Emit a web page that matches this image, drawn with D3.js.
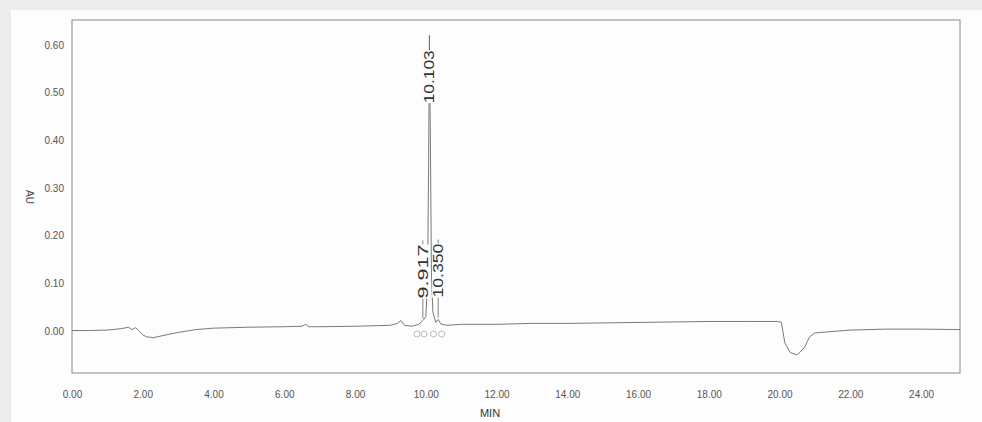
<!DOCTYPE html>
<html lang="en">
<head>
<meta charset="UTF-8">
<title>chromatogram</title>
<style>
  body { margin: 0; background: #ececec; }
  text { font-family: "Liberation Sans", Arial, sans-serif; }
</style>
</head>
<body>
<script src="https://cdn.jsdelivr.net/npm/d3@7"></script>
<script>

// trace: [minutes, AU]
const trace = [
    [0.0, 0.001], [0.5, 0.001], [1.0, 0.002], [1.4, 0.005], [1.6, 0.008],
    [1.7, 0.003], [1.8, 0.007], [1.9, 0.000], [2.0, -0.008], [2.1, -0.012],
    [2.3, -0.014], [2.6, -0.009], [3.0, -0.003], [3.5, 0.003], [4.0, 0.006],
    [5.0, 0.008], [6.0, 0.009], [6.5, 0.010], [6.6, 0.014], [6.7, 0.009],
    [7.0, 0.009], [8.0, 0.010], [9.0, 0.012], [9.2, 0.016], [9.3, 0.022],
    [9.4, 0.012], [9.6, 0.010], [9.8, 0.014], [9.917, 0.022], [10.0, 0.030],
    [10.05, 0.10], [10.08, 0.35], [10.103, 0.62], [10.13, 0.40], [10.16, 0.12],
    [10.2, 0.040], [10.28, 0.018], [10.35, 0.024], [10.42, 0.015], [10.6, 0.012],
    [11.0, 0.014], [12.0, 0.014], [13.0, 0.016], [14.0, 0.016], [15.0, 0.017],
    [16.0, 0.018], [17.0, 0.019], [18.0, 0.020], [19.0, 0.020], [19.95, 0.020],
    [20.05, 0.018], [20.15, -0.025], [20.3, -0.045], [20.5, -0.050], [20.7, -0.035],
    [20.85, -0.012], [21.0, -0.004], [22.0, 0.002], [23.0, 0.004], [24.0, 0.004],
    [25.1, 0.003]
];

// labelled peaks: retention time, apex AU
const peakTimes = [9.917, 10.103, 10.350];
const peakHeights = [0.022, 0.62, 0.024];

const xTicks = d3.range(0, 25, 2);
const yTicks = [0, 0.1, 0.2, 0.3, 0.4, 0.5, 0.6];

const width = 982, height = 422;
const margin = {left: 72, right: 22, top: 20, bottom: 49};

let svg = d3.select('body')
    .append('svg')
    .attr('width', width)
    .attr('height', height);

// white sheet on the grey scan background
svg.append('rect')
    .attr('x', 11).attr('y', 10)
    .attr('width', width - 11).attr('height', height - 10)
    .attr('fill', '#fdfdfd');

let x = d3.scaleLinear()
    .domain([0, 25.1])
    .range([margin.left, width - margin.right]);

let y = d3.scaleLinear()
    .domain([-0.088, 0.652])
    .range([height - margin.bottom, margin.top]);

// frame
svg.append('rect')
    .attr('x', x.range()[0]).attr('y', y.range()[1])
    .attr('width', x.range()[1] - x.range()[0])
    .attr('height', y.range()[0] - y.range()[1])
    .attr('fill', 'none')
    .attr('stroke', '#8a8a8a')
    .attr('stroke-width', 1);

let xAxis = svg.append('g')
    .attr('transform', 'translate(0,' + y.range()[0] + ')')
    .call(d3.axisBottom(x).tickValues(xTicks).tickFormat(d3.format('.2f')).tickSize(0).tickPadding(18));

let yAxis = svg.append('g')
    .attr('transform', 'translate(' + x.range()[0] + ',0)')
    .call(d3.axisLeft(y).tickValues(yTicks).tickFormat(d3.format('.2f')).tickSize(0).tickPadding(8));

[xAxis, yAxis].forEach(function(g){
    g.select('.domain').remove();
    g.selectAll('text')
        .attr('fill', '#555')
        .style('font-size', '10px');
});

svg.append('text')
    .attr('x', 490).attr('y', 417)
    .attr('text-anchor', 'middle')
    .attr('fill', '#333')
    .style('font-size', '11px')
    .text('MIN');

svg.append('text')
    .attr('transform', 'translate(26,197) rotate(90)')
    .attr('text-anchor', 'middle')
    .attr('fill', '#444')
    .style('font-size', '10px')
    .text('AU');

// the trace
let line = d3.line()
    .x(function(d){ return x(d[0]); })
    .y(function(d){ return y(d[1]); });

svg.append('path')
    .datum(trace)
    .attr('d', line)
    .attr('fill', 'none')
    .attr('stroke', '#6a6a6a')
    .attr('stroke-width', 0.9);

// peak start / end marks near the baseline
[9.75, 9.95, 10.22, 10.45].forEach(function(t){
    svg.append('circle')
        .attr('cx', x(t)).attr('cy', y(0) + 3)
        .attr('r', 3)
        .attr('fill', 'none')
        .attr('stroke', '#aaa')
        .attr('stroke-width', 0.8);
});

// peak labels
peakTimes.forEach(function(t, i){
    let px = x(t), py = y(peakHeights[i]);
    let main = peakHeights[i] > 0.3;
    let label = svg.append('g');
    let labelTop, labelBottom;
    if (main) {
        labelTop = py + 15;
        labelBottom = labelTop + 53;
    } else {
        labelBottom = py - 22;
        labelTop = labelBottom - 54;
        label.append('line')
            .attr('x1', px).attr('x2', px)
            .attr('y1', py - 2).attr('y2', labelBottom)
            .attr('stroke', '#666').attr('stroke-width', 0.8);
        label.append('line')
            .attr('x1', px).attr('x2', px)
            .attr('y1', labelTop - 4).attr('y2', labelTop)
            .attr('stroke', '#666').attr('stroke-width', 0.8);
    }
    label.append('rect')
        .attr('x', px - 6).attr('y', labelTop)
        .attr('width', 12).attr('height', labelBottom - labelTop)
        .attr('fill', '#fdfdfd');
    label.append('text')
        .attr('transform', 'translate(' + (px + 5) + ',' + labelBottom + ') rotate(-90)')
        .attr('textLength', labelBottom - labelTop)
        .attr('lengthAdjust', 'spacingAndGlyphs')
        .attr('fill', '#333')
        .style('font-size', '14px')
        .text(d3.format('.3f')(t));
});

</script>
</body>
</html>
